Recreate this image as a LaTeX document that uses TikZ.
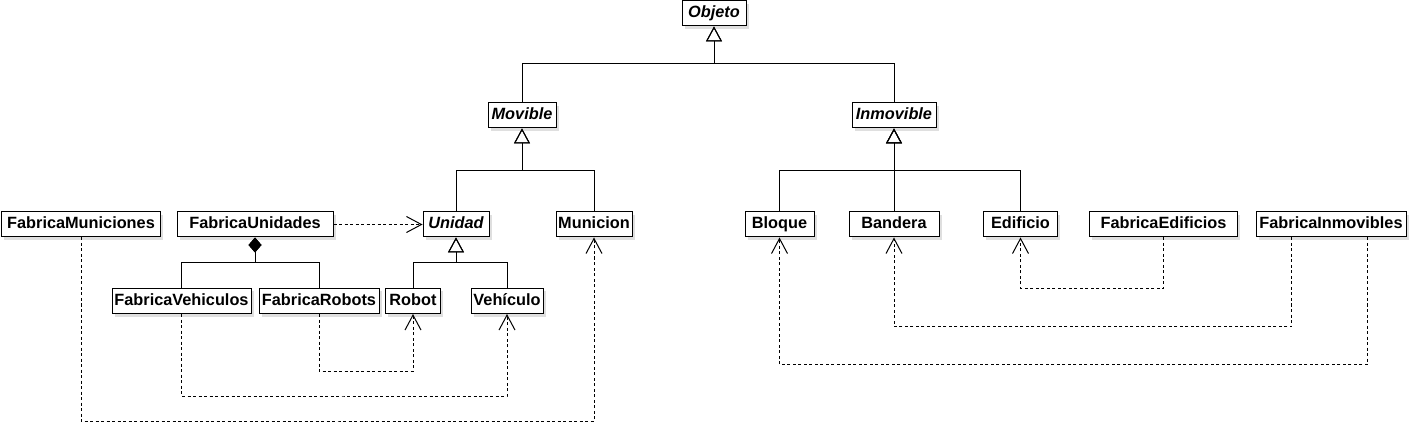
\documentclass[tikz,border=0pt]{standalone}
\usepackage{fontspec}
\setmainfont{Liberation Sans}
\usetikzlibrary{arrows.meta,shadows,calc}
\begin{document}
\begin{tikzpicture}[x=1pt,y=-1pt,
  cls/.style={draw, line width=1pt, fill=white, minimum height=25pt, inner sep=0pt,
    text height=12pt, text depth=3.5pt,
    font=\fontsize{16.3}{18}\selectfont\bfseries,
    drop shadow={opacity=0.25, shadow xshift=2.5pt, shadow yshift=-3pt}},
  abs/.style={cls, font=\fontsize{16.3}{18}\selectfont\bfseries\itshape},
  inh/.style={line width=1pt, -{Triangle[open, length=15pt, width=16pt]}},
  comp/.style={line width=1pt, {Diamond[length=15pt, width=13pt]}-},
  dep/.style={line width=1pt, dash pattern=on 3pt off 2.5pt, -{Straight Barb[length=15pt, width=16pt]}}
]
\useasboundingbox (0,0) rectangle (1409,422);
% classes
\node[abs, minimum width=64pt] (obj) at (714,13.5) {Objeto};
\node[abs, minimum width=68pt] (mov) at (522,115.5) {Movible};
\node[abs, minimum width=84pt] (inm) at (894,115.5) {Inmovible};
\node[abs, minimum width=66pt] (uni) at (456,224.5) {Unidad};
\node[cls, minimum width=76pt] (mun) at (594,224.5) {Municion};
\node[cls, minimum width=159pt] (fm) at (81,224.5) {FabricaMuniciones};
\node[cls, minimum width=156pt] (fu) at (255,224.5) {FabricaUnidades};
\node[cls, minimum width=139pt] (fv) at (181.5,301) {FabricaVehiculos};
\node[cls, minimum width=120pt] (fr) at (319,301) {FabricaRobots};
\node[cls, minimum width=55pt] (rob) at (413,301) {Robot};
\node[cls, minimum width=72pt] (veh) at (507,301) {Vehículo};
\node[cls, minimum width=69pt] (blo) at (779.5,224.5) {Bloque};
\node[cls, minimum width=90pt] (ban) at (894,224.5) {Bandera};
\node[cls, minimum width=74pt] (edi) at (1020.5,224.5) {Edificio};
\node[cls, minimum width=148pt] (fe) at (1163.5,224.5) {FabricaEdificios};
\node[cls, minimum width=150pt] (fi) at (1331,224.5) {FabricaInmovibles};
% junctions
\coordinate (j1) at (714,63.5);
\coordinate (j2) at (522,170.5);
\coordinate (j3) at (894,170.5);
\coordinate (j4) at (456,262.5);
\coordinate (jd) at (255,262.5);
\coordinate (d1) at (366,371);
\coordinate (d2) at (344,396);
\coordinate (d3) at (338,421);
\coordinate (d4) at (1092,288.5);
\coordinate (d5) at (1093,326.5);
\coordinate (d6) at (1073,364.5);
\coordinate (fi1) at ($(fi.south west)!0.24!(fi.south east)$);
\coordinate (fi2) at ($(fi.south west)!0.74!(fi.south east)$);
% generalizations
\draw[inh] (mov.north) |- (j1) -| (obj.south);
\draw[inh] (inm.north) |- (j1) -| (obj.south);
\draw[inh] (uni.north) |- (j2) -| (mov.south);
\draw[inh] (mun.north) |- (j2) -| (mov.south);
\draw[inh] (blo.north) |- (j3) -| (inm.south);
\draw[inh] (ban.north) -- (inm.south);
\draw[inh] (edi.north) |- (j3) -| (inm.south);
\draw[inh] (rob.north) |- (j4) -| (uni.south);
\draw[inh] (veh.north) |- (j4) -| (uni.south);
% composition
\draw[comp] (fu.south) -- (jd) -| (fv.north);
\draw[comp] (fu.south) -- (jd) -| (fr.north);
% dependencies
\draw[dep] (fu.east) -- (uni.west);
\draw[dep] (fr.south) |- (d1) -| (rob.south);
\draw[dep] (fv.south) |- (d2) -| (veh.south);
\draw[dep] (fm.south) |- (d3) -| (mun.south);
\draw[dep] (fe.south) |- (d4) -| (edi.south);
\draw[dep] (fi1) |- (d5) -| (ban.south);
\draw[dep] (fi2) |- (d6) -| (blo.south);
\end{tikzpicture}
\end{document}
